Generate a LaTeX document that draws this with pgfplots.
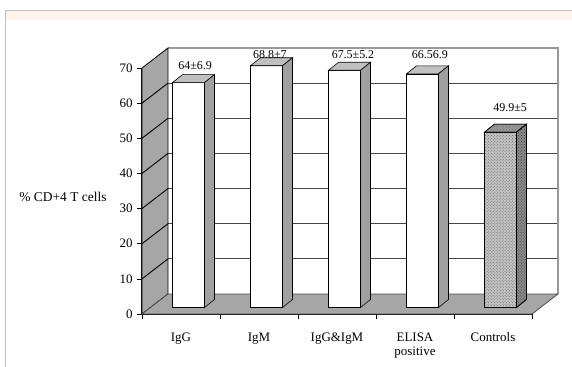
\documentclass[border=0pt]{standalone}
\usepackage{pgfplots}
\pgfplotsset{compat=1.18}
\usepackage{pgfplotstable}
\usepackage{fontspec}
\setmainfont{Liberation Serif}
\usetikzlibrary{patterns}
\definecolor{wallgray}{RGB}{166,166,166}
\definecolor{barside}{RGB}{160,160,160}
\definecolor{bartop}{RGB}{192,192,192}
\definecolor{framegray}{RGB}{190,190,190}
\definecolor{bandpink}{RGB}{255,243,238}
\definecolor{ctrlfill}{RGB}{195,195,195}
\definecolor{ctrlside}{RGB}{140,140,140}
\definecolor{gridc}{RGB}{70,70,70}

\pgfplotstableread{
x v
0.5 64
1.5 68.8
2.5 67.5
3.5 66.5
}\whitebars
\pgfplotstableread{
x v
4.5 49.9
}\ctrlbars
\pgfplotstableread{
lx ly label
0.68 70.8 64±6.9
1.64 73.9 68.8±7
2.705 73.9 67.5±5.2
3.69 73.9 66.56.9
4.72 58.6 49.9±5
}\labels

\def\ox{7.5}
\def\oy{6.5}
\pgfplotsset{
  bar3d/.style n args={3}{
    scatter, only marks, mark=*, mark size=0pt,
    visualization depends on={\thisrow{v} \as \val},
    scatter/@pre marker code/.code={%
      \pgfmathsetmacro{\h}{\val*3.514}%
      \pgfmathsetmacro{\L}{\ox-16}%
      \pgfmathsetmacro{\R}{\ox+16}%
      \pgfmathsetmacro{\B}{\oy-\h}%
      \pgfmathsetmacro{\T}{\oy}%
      \pgfmathsetmacro{\RR}{\R+10}%
      \pgfmathsetmacro{\LL}{\L+10}%
      \pgfmathsetmacro{\TT}{\T+8}%
      \pgfmathsetmacro{\BB}{\B+8}%
      \filldraw[#1, draw=black, line width=0.6bp] (\L bp,\B bp) rectangle (\R bp,\T bp);
      \filldraw[#2, draw=black, line width=0.6bp] (\L bp,\T bp) -- (\LL bp,\TT bp) -- (\RR bp,\TT bp) -- (\R bp,\T bp) -- cycle;
      \filldraw[#3, draw=black, line width=0.6bp] (\R bp,\B bp) -- (\RR bp,\BB bp) -- (\RR bp,\TT bp) -- (\R bp,\T bp) -- cycle;
    },
    scatter/@post marker code/.code={},
  }
}

\begin{document}
\begin{tikzpicture}
\useasboundingbox (-142bp,-53bp) rectangle (430bp,314bp);
\fill[bandpink] (-135.5bp,302.5bp) rectangle (430bp,294bp);
\draw[framegray, line width=1bp] (-136bp,-53bp) -- (-136bp,303bp) -- (430bp,303bp);
\begin{axis}[
  x=78bp, y=3.514bp,
  xmin=0, xmax=5, ymin=0, ymax=70,
  axis x line*=bottom, axis y line*=left,
  axis line style={black, line width=1.2bp},
  clip=false,
  xtick={0,1,2,3,4,5}, xticklabels={},
  extra x ticks={0.5,1.5,2.5,3.5,4.5},
  extra x tick labels={IgG, IgM, IgG\&IgM, {ELISA\\positive}, Controls},
  extra x tick style={major tick length=0pt, xticklabel style={yshift=-15bp}},
  ytick={0,10,...,70},
  tick align=outside, major tick length=5bp,
  tick style={black, line width=0.7bp},
  xticklabel style={align=center, font=\fontsize{13}{14}\selectfont},
  yticklabel style={font=\fontsize{13}{14}\selectfont, xshift=-1bp},
  /pgf/number format/assume math mode=true,
  ylabel={\% CD+4 T cells},
  ylabel style={rotate=-90, at={(axis description cs:-0.2026,0.476)}, anchor=center, font=\fontsize{13.5}{15}\selectfont},
]
% back wall
\fill[white] (axis cs:0.333,5.69) rectangle (axis cs:5.333,75.69);
\draw[gridc, line width=0.9bp] (axis cs:0.333,15.69) -- (axis cs:5.333,15.69);
\draw[gridc, line width=0.9bp] (axis cs:0.333,25.69) -- (axis cs:5.333,25.69);
\draw[gridc, line width=0.9bp] (axis cs:0.333,35.69) -- (axis cs:5.333,35.69);
\draw[gridc, line width=0.9bp] (axis cs:0.333,45.69) -- (axis cs:5.333,45.69);
\draw[gridc, line width=0.9bp] (axis cs:0.333,55.69) -- (axis cs:5.333,55.69);
\draw[gridc, line width=0.9bp] (axis cs:0.333,65.69) -- (axis cs:5.333,65.69);
\draw[gray!80, line width=1.2bp] (axis cs:0.333,75.69) -- (axis cs:5.333,75.69) -- (axis cs:5.333,5.69);
% side wall
\filldraw[fill=wallgray, draw=black, line width=0.8bp] (axis cs:0,0) -- (axis cs:0.333,5.69) -- (axis cs:0.333,75.69) -- (axis cs:0,70) -- cycle;
\draw[black, line width=0.9bp] (axis cs:0,10) -- (axis cs:0.333,15.69);
\draw[black, line width=0.9bp] (axis cs:0,20) -- (axis cs:0.333,25.69);
\draw[black, line width=0.9bp] (axis cs:0,30) -- (axis cs:0.333,35.69);
\draw[black, line width=0.9bp] (axis cs:0,40) -- (axis cs:0.333,45.69);
\draw[black, line width=0.9bp] (axis cs:0,50) -- (axis cs:0.333,55.69);
\draw[black, line width=0.9bp] (axis cs:0,60) -- (axis cs:0.333,65.69);
% floor
\filldraw[fill=wallgray, draw=black!70, line width=0.8bp] (axis cs:0,0) -- (axis cs:5,0) -- (axis cs:5.333,5.69) -- (axis cs:0.333,5.69) -- cycle;
% bars
\addplot[bar3d={fill=white}{fill=bartop}{fill=barside}] table[x=x,y=v] {\whitebars};
\addplot[bar3d={fill=ctrlfill, postaction={pattern=crosshatch dots, pattern color=black!60}}{fill=bartop!80!black, postaction={pattern=crosshatch dots, pattern color=black!60}}{fill=ctrlside, postaction={pattern=crosshatch dots, pattern color=black!80}}] table[x=x,y=v] {\ctrlbars};
% value labels
\addplot[only marks, mark=*, mark size=0pt, nodes near coords, point meta=explicit symbolic,
  every node near coord/.style={anchor=center, inner sep=0pt, black, font=\fontsize{12}{14}\selectfont}]
  table[x=lx, y=ly, meta=label] {\labels};
\end{axis}
\end{tikzpicture}
\end{document}
